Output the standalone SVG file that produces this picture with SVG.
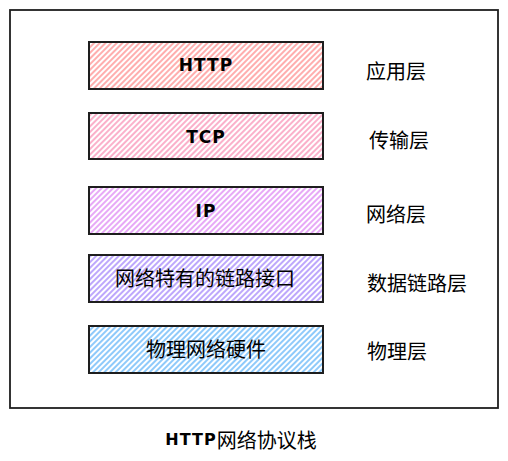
<svg xmlns="http://www.w3.org/2000/svg" width="508" height="461" viewBox="0 0 508 461">
<style>
.frame{fill:none;stroke:#1e1e1e;stroke-width:1.8}
.box{stroke:#1e1e1e;stroke-width:2}
.lat{font-family:"DejaVu Sans","Liberation Sans",sans-serif;font-weight:bold;font-size:17px;fill:#000;text-anchor:middle;dominant-baseline:central;letter-spacing:1px}
.cjk{font-family:"Noto Sans CJK SC","Noto Sans",sans-serif;font-size:20px;fill:#000;dominant-baseline:central}
.mid{text-anchor:middle}
</style>
<defs>
<pattern id="hRed" patternUnits="userSpaceOnUse" width="4" height="10" patternTransform="rotate(45)"><line x1="1" y1="0" x2="1" y2="10" stroke="#ff8787" stroke-opacity="0.85" stroke-width="1.6"/></pattern>
<pattern id="hPink" patternUnits="userSpaceOnUse" width="4" height="10" patternTransform="rotate(45)"><line x1="1" y1="0" x2="1" y2="10" stroke="#f783ac" stroke-opacity="0.8" stroke-width="1.6"/></pattern>
<pattern id="hGrape" patternUnits="userSpaceOnUse" width="4" height="10" patternTransform="rotate(45)"><line x1="1" y1="0" x2="1" y2="10" stroke="#da77f2" stroke-opacity="0.8" stroke-width="1.6"/></pattern>
<pattern id="hViolet" patternUnits="userSpaceOnUse" width="4" height="10" patternTransform="rotate(45)"><line x1="1" y1="0" x2="1" y2="10" stroke="#9775fa" stroke-opacity="0.8" stroke-width="1.6"/></pattern>
<pattern id="hBlue" patternUnits="userSpaceOnUse" width="4" height="10" patternTransform="rotate(45)"><line x1="1" y1="0" x2="1" y2="10" stroke="#4dabf7" stroke-opacity="0.8" stroke-width="1.6"/></pattern>
</defs>
<rect id="frame" class="frame" x="10" y="10" width="488" height="398"/>
<g id="http"><rect class="box" x="89" y="42" width="234" height="47" fill="url(#hRed)"/><text class="lat" x="206" y="65">HTTP</text></g>
<g id="tcp"><rect class="box" x="89" y="113" width="234" height="46" fill="url(#hPink)"/><text class="lat" x="206" y="137">TCP</text></g>
<g id="ip"><rect class="box" x="89" y="187" width="234" height="47" fill="url(#hGrape)"/><text class="lat" x="206" y="211">IP</text></g>
<g id="link"><rect class="box" x="89" y="255" width="234" height="47" fill="url(#hViolet)"/><text class="cjk mid" x="205" y="277">网络特有的链路接口</text></g>
<g id="phys"><rect class="box" x="89" y="326" width="234" height="47" fill="url(#hBlue)"/><text class="cjk mid" x="206" y="348">物理网络硬件</text></g>
<g id="labels">
<text class="cjk" x="366" y="70">应用层</text>
<text class="cjk" x="369" y="139">传输层</text>
<text class="cjk" x="366" y="213">网络层</text>
<text class="cjk" x="367" y="282">数据链路层</text>
<text class="cjk" x="367" y="350">物理层</text>
</g>
<g id="caption"><text x="241" y="439" text-anchor="middle" dominant-baseline="central"><tspan style="font-family:'DejaVu Sans',sans-serif;font-weight:bold;font-size:16px;letter-spacing:1px">HTTP</tspan><tspan style="font-family:'Noto Sans CJK SC',sans-serif;font-size:20px">网络协议栈</tspan></text></g>
<g id="connectors"/>
</svg>
